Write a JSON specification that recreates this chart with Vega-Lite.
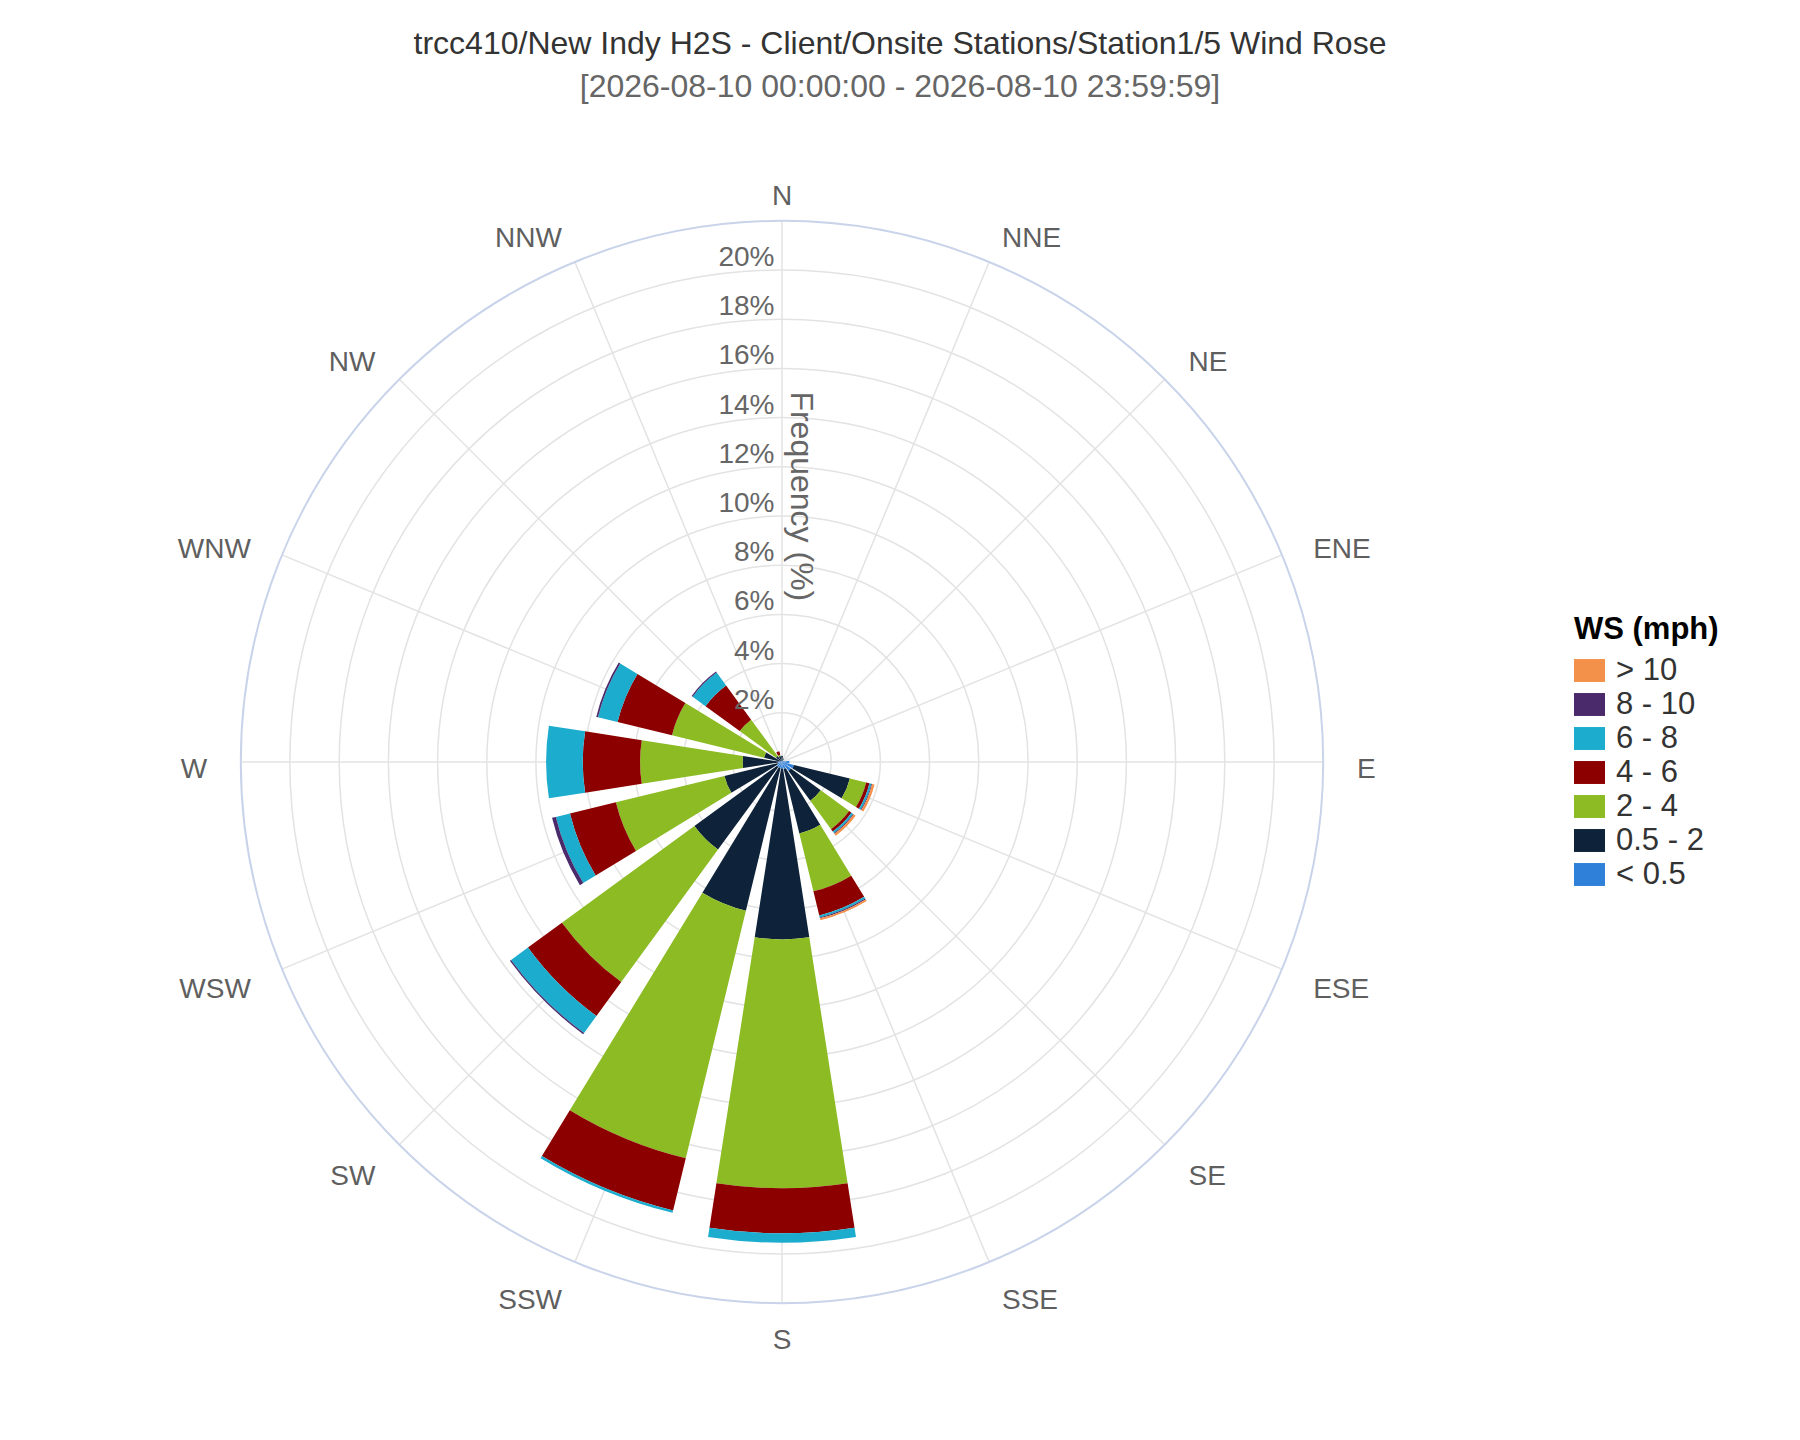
{
  "$schema": "https://vega.github.io/schema/vega-lite/v6.json",
  "width": 1564,
  "height": 1264,
  "autosize": {"type": "none"},
  "padding": {"left": 0, "top": 130, "right": 236, "bottom": 46},
  "title": {
    "text": "trcc410/New Indy H2S - Client/Onsite Stations/Station1/5 Wind Rose",
    "subtitle": "[2026-08-10 00:00:00 - 2026-08-10 23:59:59]",
    "anchor": "middle",
    "frame": "group",
    "dx": 118,
    "offset": 26,
    "font": "Liberation Sans",
    "fontSize": 32,
    "fontWeight": "normal",
    "color": "#333",
    "subtitleFont": "Liberation Sans",
    "subtitleFontSize": 32,
    "subtitleColor": "#666",
    "subtitlePadding": 11
  },
  "datasets": {
    "dirs": [
      {"dir": "N", "deg": 0}, {"dir": "NNE", "deg": 22.5}, {"dir": "NE", "deg": 45}, {"dir": "ENE", "deg": 67.5},
      {"dir": "E", "deg": 90}, {"dir": "ESE", "deg": 112.5}, {"dir": "SE", "deg": 135}, {"dir": "SSE", "deg": 157.5},
      {"dir": "S", "deg": 180}, {"dir": "SSW", "deg": 202.5}, {"dir": "SW", "deg": 225}, {"dir": "WSW", "deg": 247.5},
      {"dir": "W", "deg": 270}, {"dir": "WNW", "deg": 292.5}, {"dir": "NW", "deg": 315}, {"dir": "NNW", "deg": 337.5}
    ],
    "bins": [
      {"ws": "< 0.5", "lo": 0}, {"ws": "0.5 - 2", "lo": 0.5}, {"ws": "2 - 4", "lo": 2}, {"ws": "4 - 6", "lo": 4},
      {"ws": "6 - 8", "lo": 6}, {"ws": "8 - 10", "lo": 8}, {"ws": "> 10", "lo": 10}
    ],
    "rings": [
      {"r": 2, "lab": "2%"}, {"r": 4, "lab": "4%"}, {"r": 6, "lab": "6%"}, {"r": 8, "lab": "8%"}, {"r": 10, "lab": "10%"},
      {"r": 12, "lab": "12%"}, {"r": 14, "lab": "14%"}, {"r": 16, "lab": "16%"}, {"r": 18, "lab": "18%"}, {"r": 20, "lab": "20%"}
    ],
    "rose": [
      {"dir": "N", "ws": "< 0.5", "freq": 0.05}, {"dir": "N", "ws": "0.5 - 2", "freq": 0.2},
      {"dir": "NNE", "ws": "< 0.5", "freq": 0.05}, {"dir": "NNE", "ws": "0.5 - 2", "freq": 0.1},
      {"dir": "NE", "ws": "< 0.5", "freq": 0.05},
      {"dir": "ENE", "ws": "< 0.5", "freq": 0.1},
      {"dir": "E", "ws": "< 0.5", "freq": 0.3},
      {"dir": "ESE", "ws": "< 0.5", "freq": 0.5}, {"dir": "ESE", "ws": "0.5 - 2", "freq": 2.34}, {"dir": "ESE", "ws": "2 - 4", "freq": 0.68},
      {"dir": "ESE", "ws": "4 - 6", "freq": 0.14}, {"dir": "ESE", "ws": "6 - 8", "freq": 0.08}, {"dir": "ESE", "ws": "8 - 10", "freq": 0.03}, {"dir": "ESE", "ws": "> 10", "freq": 0.1},
      {"dir": "SE", "ws": "< 0.5", "freq": 0.45}, {"dir": "SE", "ws": "0.5 - 2", "freq": 1.5}, {"dir": "SE", "ws": "2 - 4", "freq": 1.43},
      {"dir": "SE", "ws": "4 - 6", "freq": 0.12}, {"dir": "SE", "ws": "6 - 8", "freq": 0.08}, {"dir": "SE", "ws": "8 - 10", "freq": 0.03}, {"dir": "SE", "ws": "> 10", "freq": 0.1},
      {"dir": "SSE", "ws": "< 0.5", "freq": 0.3}, {"dir": "SSE", "ws": "0.5 - 2", "freq": 2.69}, {"dir": "SSE", "ws": "2 - 4", "freq": 2.42},
      {"dir": "SSE", "ws": "4 - 6", "freq": 1.01}, {"dir": "SSE", "ws": "6 - 8", "freq": 0.08}, {"dir": "SSE", "ws": "8 - 10", "freq": 0.04}, {"dir": "SSE", "ws": "> 10", "freq": 0.08},
      {"dir": "S", "ws": "< 0.5", "freq": 0.27}, {"dir": "S", "ws": "0.5 - 2", "freq": 6.94}, {"dir": "S", "ws": "2 - 4", "freq": 10.12},
      {"dir": "S", "ws": "4 - 6", "freq": 1.83}, {"dir": "S", "ws": "6 - 8", "freq": 0.38},
      {"dir": "SSW", "ws": "< 0.5", "freq": 0.25}, {"dir": "SSW", "ws": "0.5 - 2", "freq": 5.97}, {"dir": "SSW", "ws": "2 - 4", "freq": 10.36},
      {"dir": "SSW", "ws": "4 - 6", "freq": 2.18}, {"dir": "SSW", "ws": "6 - 8", "freq": 0.1},
      {"dir": "SW", "ws": "< 0.5", "freq": 0.25}, {"dir": "SW", "ws": "0.5 - 2", "freq": 4.16}, {"dir": "SW", "ws": "2 - 4", "freq": 6.67},
      {"dir": "SW", "ws": "4 - 6", "freq": 1.71}, {"dir": "SW", "ws": "6 - 8", "freq": 0.85}, {"dir": "SW", "ws": "8 - 10", "freq": 0.06},
      {"dir": "WSW", "ws": "< 0.5", "freq": 0.2}, {"dir": "WSW", "ws": "0.5 - 2", "freq": 2.21}, {"dir": "WSW", "ws": "2 - 4", "freq": 4.54},
      {"dir": "WSW", "ws": "4 - 6", "freq": 1.92}, {"dir": "WSW", "ws": "6 - 8", "freq": 0.59}, {"dir": "WSW", "ws": "8 - 10", "freq": 0.16},
      {"dir": "W", "ws": "< 0.5", "freq": 0.15}, {"dir": "W", "ws": "0.5 - 2", "freq": 1.45}, {"dir": "W", "ws": "2 - 4", "freq": 4.17},
      {"dir": "W", "ws": "4 - 6", "freq": 2.33}, {"dir": "W", "ws": "6 - 8", "freq": 1.49},
      {"dir": "WNW", "ws": "< 0.5", "freq": 0.1}, {"dir": "WNW", "ws": "0.5 - 2", "freq": 0.65}, {"dir": "WNW", "ws": "2 - 4", "freq": 3.85},
      {"dir": "WNW", "ws": "4 - 6", "freq": 2.28}, {"dir": "WNW", "ws": "6 - 8", "freq": 0.82}, {"dir": "WNW", "ws": "8 - 10", "freq": 0.07},
      {"dir": "NW", "ws": "< 0.5", "freq": 0.05}, {"dir": "NW", "ws": "0.5 - 2", "freq": 0.25}, {"dir": "NW", "ws": "2 - 4", "freq": 1.83},
      {"dir": "NW", "ws": "4 - 6", "freq": 1.72}, {"dir": "NW", "ws": "6 - 8", "freq": 0.65}, {"dir": "NW", "ws": "8 - 10", "freq": 0.05},
      {"dir": "NNW", "ws": "< 0.5", "freq": 0.05}, {"dir": "NNW", "ws": "0.5 - 2", "freq": 0.2}, {"dir": "NNW", "ws": "2 - 4", "freq": 0.05},
      {"dir": "NNW", "ws": "4 - 6", "freq": 0.15}
    ]
  },
  "layer": [
    {
      "data": {"name": "rings"},
      "mark": {"type": "arc", "filled": false, "stroke": "#e3e3e3", "strokeWidth": 1.5},
      "encoding": {
        "theta": {"datum": 0, "type": "quantitative", "stack": null, "scale": {"type": "linear", "domain": [0, 360], "range": [0, 6.283185307179586]}},
        "theta2": {"datum": 360},
        "radius": {"field": "r", "type": "quantitative", "stack": null, "scale": {"type": "linear", "zero": true, "domain": [0, 22], "range": [0, 541.2]}}
      }
    },
    {
      "data": {"name": "dirs"},
      "mark": {"type": "arc", "filled": false, "stroke": "#e3e3e3", "strokeWidth": 1.5},
      "encoding": {
        "theta": {"field": "deg", "type": "quantitative", "stack": null},
        "theta2": {"field": "deg"},
        "radius": {"datum": 22, "type": "quantitative", "stack": null},
        "radius2": {"datum": 0}
      }
    },
    {
      "data": {"values": [{"r": 22}]},
      "mark": {"type": "arc", "filled": false, "stroke": "#c9d4ea", "strokeWidth": 2},
      "encoding": {
        "theta": {"datum": 0, "type": "quantitative", "stack": null},
        "theta2": {"datum": 360},
        "radius": {"field": "r", "type": "quantitative", "stack": null}
      }
    },
    {
      "data": {"name": "rose"},
      "transform": [
        {"lookup": "dir", "from": {"data": {"name": "dirs"}, "key": "dir", "fields": ["deg"]}},
        {"lookup": "ws", "from": {"data": {"name": "bins"}, "key": "ws", "fields": ["lo"]}},
        {"stack": "freq", "groupby": ["dir"], "sort": [{"field": "lo", "order": "ascending"}], "as": ["r0", "r1"]}
      ],
      "mark": {"type": "arc", "thetaOffset": -0.1545, "theta2Offset": 0.1545},
      "encoding": {
        "theta": {"field": "deg", "type": "quantitative", "stack": null},
        "theta2": {"field": "deg"},
        "radius": {"field": "r1", "type": "quantitative", "stack": null},
        "radius2": {"field": "r0"},
        "color": {
          "field": "ws",
          "type": "nominal",
          "scale": {
            "domain": ["> 10", "8 - 10", "6 - 8", "4 - 6", "2 - 4", "0.5 - 2", "< 0.5"],
            "range": ["#f3914a", "#4b2a6b", "#1cacce", "#8d0000", "#8cbb23", "#0e2339", "#2f80d9"]
          },
          "legend": {
            "title": "WS (mph)",
            "orient": "none",
            "legendX": 1574,
            "legendY": 485,
            "padding": 0,
            "titleFont": "Liberation Sans",
            "titleFontSize": 31,
            "titleFontWeight": "bold",
            "titleColor": "#000",
            "titlePadding": 9,
            "labelFont": "Liberation Sans",
            "labelFontSize": 31,
            "labelColor": "#333",
            "labelOffset": 11,
            "symbolType": "M-1,-0.74H1V0.74H-1Z",
            "symbolSize": 961,
            "symbolStrokeWidth": 0,
            "symbolOpacity": 1,
            "rowPadding": 2
          }
        }
      }
    },
    {
      "data": {"name": "rings"},
      "mark": {"type": "text", "align": "right", "baseline": "alphabetic", "dx": -7.5, "dy": -4, "font": "Liberation Sans", "fontSize": 28, "fill": "#666"},
      "encoding": {
        "theta": {"datum": 0, "type": "quantitative", "stack": null},
        "radius": {"field": "r", "type": "quantitative", "stack": null},
        "text": {"field": "lab"}
      }
    },
    {
      "data": {"values": [{"t": "Frequency (%)", "r": 10.8}]},
      "mark": {"type": "text", "angle": 90, "align": "center", "baseline": "alphabetic", "dy": -9, "font": "Liberation Sans", "fontSize": 32, "fill": "#666"},
      "encoding": {
        "theta": {"datum": 0, "type": "quantitative", "stack": null},
        "radius": {"field": "r", "type": "quantitative", "stack": null},
        "text": {"field": "t"}
      }
    },
    {
      "data": {"name": "dirs"},
      "transform": [{"filter": "datum.deg == 0"}],
      "mark": {"type": "text", "align": "center", "baseline": "middle", "dy": 10, "font": "Liberation Sans", "fontSize": 28, "fill": "#5f5f5f"},
      "encoding": {
        "theta": {"field": "deg", "type": "quantitative", "stack": null},
        "radius": {"datum": 23.37, "type": "quantitative", "stack": null},
        "text": {"field": "dir"}
      }
    },
    {
      "data": {"name": "dirs"},
      "transform": [{"filter": "datum.deg == 180"}],
      "mark": {"type": "text", "align": "center", "baseline": "middle", "dy": 4, "font": "Liberation Sans", "fontSize": 28, "fill": "#5f5f5f"},
      "encoding": {
        "theta": {"field": "deg", "type": "quantitative", "stack": null},
        "radius": {"datum": 23.37, "type": "quantitative", "stack": null},
        "text": {"field": "dir"}
      }
    },
    {
      "data": {"name": "dirs"},
      "transform": [{"filter": "datum.deg > 0 && datum.deg < 180"}],
      "mark": {"type": "text", "align": "left", "baseline": "middle", "dy": 8, "font": "Liberation Sans", "fontSize": 28, "fill": "#5f5f5f"},
      "encoding": {
        "theta": {"field": "deg", "type": "quantitative", "stack": null},
        "radius": {"datum": 23.37, "type": "quantitative", "stack": null},
        "text": {"field": "dir"}
      }
    },
    {
      "data": {"name": "dirs"},
      "transform": [{"filter": "datum.deg > 180"}],
      "mark": {"type": "text", "align": "right", "baseline": "middle", "dy": 8, "font": "Liberation Sans", "fontSize": 28, "fill": "#5f5f5f"},
      "encoding": {
        "theta": {"field": "deg", "type": "quantitative", "stack": null},
        "radius": {"datum": 23.37, "type": "quantitative", "stack": null},
        "text": {"field": "dir"}
      }
    }
  ],
  "config": {"view": {"stroke": null}, "font": "Liberation Sans"}
}
